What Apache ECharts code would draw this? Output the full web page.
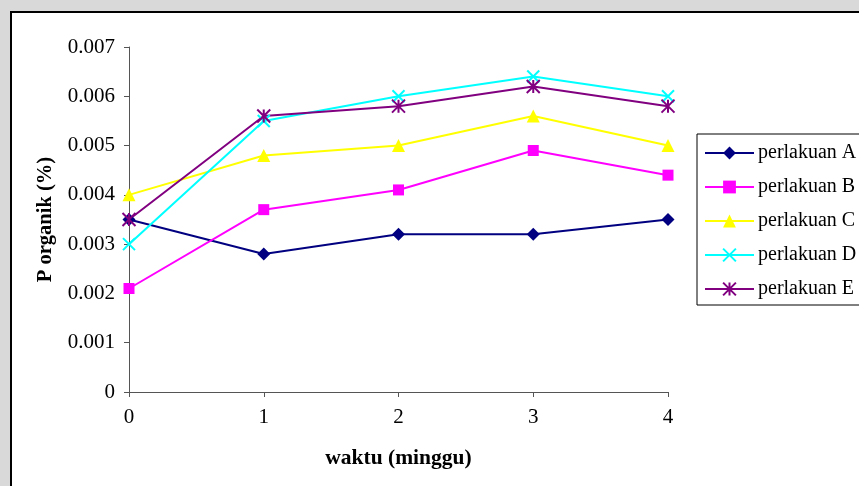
<!DOCTYPE html>
<html>
<head>
<meta charset="utf-8">
<script src="https://cdn.jsdelivr.net/npm/echarts@6/dist/echarts.min.js"></script>
<style>
  html, body { margin: 0; padding: 0; background: #d9d9d9; }
  #chart { width: 859px; height: 486px; }
</style>
</head>
<body>
<div id="chart"></div>
<script>
// weeks of observation
var weeks = [0, 1, 2, 3, 4];
// organic phosphorus (%) per treatment
var perlakuanA = [0.0035, 0.0028, 0.0032, 0.0032, 0.0035];
var perlakuanB = [0.0021, 0.0037, 0.0041, 0.0049, 0.0044];
var perlakuanC = [0.0040, 0.0048, 0.0050, 0.0056, 0.0050];
var perlakuanD = [0.0030, 0.0055, 0.0060, 0.0064, 0.0060];
var perlakuanE = [0.0035, 0.0056, 0.0058, 0.0062, 0.0058];

var seriesNames = ['perlakuan A', 'perlakuan B', 'perlakuan C', 'perlakuan D', 'perlakuan E'];
var seriesValues = [perlakuanA, perlakuanB, perlakuanC, perlakuanD, perlakuanE];
var seriesColors = ['#000080', '#ff00ff', '#ffff00', '#00ffff', '#800080'];

var crossPath = 'path://M0,0L10,10M10,0L0,10';
var starPath = 'path://M5,0L5,10M0,0L10,10M10,0L0,10';
var symbols = ['diamond', 'rect', 'triangle', crossPath, starPath];
var symbolSizes = [13, 11, 13, 12, 13];

var serif = '"Liberation Serif", "Times New Roman", serif';

function pairs(vals) {
  return weeks.map(function (w, i) { return [w, vals[i]]; });
}

var series = seriesNames.map(function (name, i) {
  var stroked = i >= 3;
  return {
    name: name,
    type: 'line',
    data: pairs(seriesValues[i]),
    symbol: symbols[i],
    symbolSize: symbolSizes[i],
    showAllSymbol: true,
    lineStyle: { color: seriesColors[i], width: 2 },
    itemStyle: stroked
      ? { color: 'rgba(0,0,0,0)', borderColor: seriesColors[i], borderWidth: 2 }
      : { color: seriesColors[i], borderWidth: 0 },
    emphasis: { disabled: true },
    animation: false
  };
});

var chart = echarts.init(document.getElementById('chart'), null, { renderer: 'canvas' });
chart.setOption({
  backgroundColor: '#d9d9d9',
  animation: false,
  graphic: [{
    type: 'rect',
    z: -10,
    shape: { x: 11, y: 12, width: 900, height: 520 },
    style: { fill: '#ffffff', stroke: '#000000', lineWidth: 2 }
  }],
  grid: { left: 129, right: 191, top: 47, bottom: 94, containLabel: false },
  xAxis: {
    type: 'value',
    min: 0, max: 4, interval: 1,
    name: 'waktu (minggu)',
    nameLocation: 'middle',
    nameGap: 55,
    nameTextStyle: { fontFamily: serif, fontSize: 21.5, fontWeight: 'bold', color: '#000' },
    axisLine: { lineStyle: { color: '#555', width: 1 } },
    axisTick: { show: true, length: 5, inside: false, lineStyle: { color: '#555' } },
    axisLabel: { fontFamily: serif, fontSize: 21, color: '#000', margin: 15 },
    splitLine: { show: false }
  },
  yAxis: {
    type: 'value',
    min: 0, max: 0.007, interval: 0.001,
    name: 'P organik (%)',
    nameLocation: 'middle',
    nameGap: 73,
    nameTextStyle: { fontFamily: serif, fontSize: 20.5, fontWeight: 'bold', color: '#000' },
    axisLine: { show: true, lineStyle: { color: '#555', width: 1 } },
    axisTick: { show: true, length: 5, inside: false, lineStyle: { color: '#555' } },
    axisLabel: {
      fontFamily: serif, fontSize: 21, color: '#000', margin: 14,
      formatter: function (v) { return v === 0 ? '0' : v.toFixed(3); }
    },
    splitLine: { show: false }
  },
  legend: {
    orient: 'vertical',
    left: 697,
    top: 134,
    data: seriesNames,
    itemWidth: 49,
    itemHeight: 16,
    itemGap: 14,
    padding: [9, 10, 6, 7],
    borderColor: '#000',
    borderWidth: 1,
    backgroundColor: '#fff',
    textStyle: { fontFamily: serif, fontSize: 20, color: '#000', padding: [0, 0, 0, -1] },
    selectedMode: false
  },
  series: series
});
</script>
</body>
</html>
